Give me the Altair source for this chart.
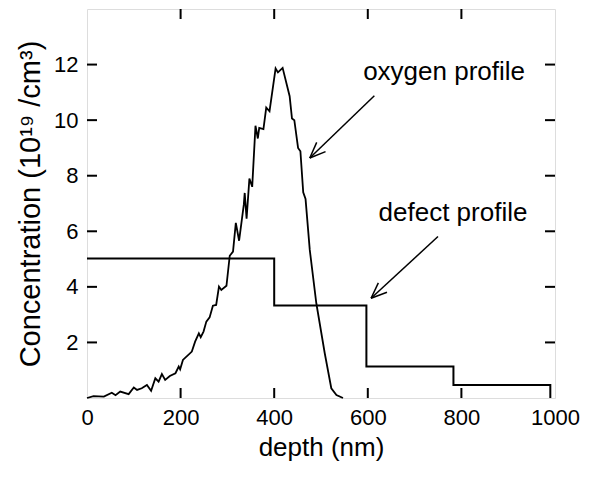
import altair as alt
import pandas as pd
import numpy as np

# ---- data ----
oxy_depth = [0, 14, 36, 53, 61, 71, 89, 100, 107, 117, 128, 137, 146, 153, 160, 167, 177, 189, 196, 199,
             205, 224, 231, 239, 243, 249, 255, 262, 269, 276, 282, 287, 298, 305, 312, 318, 325, 335,
             337, 341, 347, 353, 360, 365, 368, 377, 383, 390, 403, 408, 418, 433, 438, 443, 451, 456,
             462, 467, 476, 490, 508, 522, 533, 547]
oxy_conc = [0, 0.07, 0.05, 0.19, 0.10, 0.23, 0.14, 0.38, 0.29, 0.35, 0.47, 0.26, 0.71, 0.59, 0.86, 0.65,
            0.79, 0.89, 1.13, 1.03, 1.37, 1.67, 2.03, 2.33, 2.19, 2.39, 2.75, 2.90, 3.32, 3.35, 4.01,
            3.89, 4.04, 5.12, 5.27, 6.30, 5.66, 6.95, 7.38, 6.45, 7.90, 7.60, 9.80, 9.34, 9.72, 9.68,
            10.45, 10.32, 11.86, 11.72, 11.88, 10.86, 10.06, 10.00, 9.00, 8.88, 7.40, 7.16, 5.33,
            3.41, 1.61, 0.35, 0.11, 0.0]

defect_depth = [0, 400, 597, 783, 990]
defect_conc = [5.02, 3.33, 1.13, 0.47, 0.0]

x_ticks = [0, 200, 400, 600, 800, 1000]
y_ticks = [2, 4, 6, 8, 10, 12]
inner_x_ticks = [200, 400, 600, 800]

label_text = ["oxygen profile", "defect profile"]
label_x = [763, 782]
label_y = [11.73, 6.66]
arrow_start_x = [614, 750]
arrow_start_y = [10.88, 5.81]
arrow_tip_x = [476, 607]
arrow_tip_y = [8.64, 3.59]

# ---- layout ----
W, H = 468, 389
XMAX, YMAX = 1000, 14
PX_X = W / XMAX
PX_Y = H / YMAX
TICK = 10
FONT = "Liberation Sans"

xs = alt.Scale(domain=[0, XMAX], nice=False, zero=False)
ys = alt.Scale(domain=[0, YMAX], nice=False, zero=False)

oxy_df = pd.DataFrame({"depth": oxy_depth, "conc": oxy_conc})
def_df = pd.DataFrame({"depth": defect_depth, "conc": defect_conc})

oxy = alt.Chart(oxy_df).mark_line(color="black", strokeWidth=1.8).encode(
    x=alt.X("depth:Q", scale=xs,
            axis=alt.Axis(title="depth (nm)", values=x_ticks, format="d", ticks=False, domain=False,
                          grid=False, labelFontSize=22, titleFontSize=26, labelPadding=9, titlePadding=6,
                          labelFont=FONT, titleFont=FONT, labelColor="black", titleColor="black",
                          titleFontWeight="normal", labelFlush=False)),
    y=alt.Y("conc:Q", scale=ys,
            axis=alt.Axis(title="Concentration (10¹⁹ /cm³)", values=y_ticks, format="d", ticks=False,
                          domain=False, grid=False, labelFontSize=22, titleFontSize=29, labelPadding=9,
                          titlePadding=8, labelFont=FONT, titleFont=FONT, labelColor="black",
                          titleColor="black", titleFontWeight="normal")),
    order="order:Q",
).transform_window(order="row_number()")

defect = alt.Chart(def_df).mark_line(color="black", strokeWidth=2, interpolate="step-after").encode(
    x=alt.X("depth:Q", scale=xs), y=alt.Y("conc:Q", scale=ys))

# inward ticks
tx = TICK / PX_Y
ty = TICK / PX_X
bt = pd.DataFrame({"x": inner_x_ticks, "y": [0] * 4, "y2": [tx] * 4})
tt = pd.DataFrame({"x": inner_x_ticks, "y": [YMAX] * 4, "y2": [YMAX - tx] * 4})
lt = pd.DataFrame({"y": y_ticks, "x": [0] * 6, "x2": [ty] * 6})
rt = pd.DataFrame({"y": y_ticks, "x": [XMAX] * 6, "x2": [XMAX - ty] * 6})

def vticks(df):
    return alt.Chart(df).mark_rule(color="black", strokeWidth=2).encode(
        x=alt.X("x:Q", scale=xs), y=alt.Y("y:Q", scale=ys), y2="y2:Q")

def hticks(df):
    return alt.Chart(df).mark_rule(color="black", strokeWidth=2).encode(
        x=alt.X("x:Q", scale=xs), x2="x2:Q", y=alt.Y("y:Q", scale=ys))

# arrows
rows = []
for sx, sy, tx_, ty_ in zip(arrow_start_x, arrow_start_y, arrow_tip_x, arrow_tip_y):
    rows.append({"x": sx, "y": sy, "x2": tx_, "y2": ty_})
    dx = (sx - tx_) * PX_X
    dy = (sy - ty_) * PX_Y
    L = np.hypot(dx, dy)
    ux, uy = dx / L, dy / L
    for ang in (np.radians(22), -np.radians(22)):
        wx = ux * np.cos(ang) - uy * np.sin(ang)
        wy = ux * np.sin(ang) + uy * np.cos(ang)
        rows.append({"x": tx_, "y": ty_, "x2": tx_ + 17 * wx / PX_X, "y2": ty_ + 17 * wy / PX_Y})
arr_df = pd.DataFrame(rows)
arrows = alt.Chart(arr_df).mark_rule(color="black", strokeWidth=1.5).encode(
    x=alt.X("x:Q", scale=xs), y=alt.Y("y:Q", scale=ys), x2="x2:Q", y2="y2:Q")

lab_df = pd.DataFrame({"t": label_text, "x": label_x, "y": label_y})
labels = alt.Chart(lab_df).mark_text(font=FONT, fontSize=26, color="black").encode(
    x=alt.X("x:Q", scale=xs), y=alt.Y("y:Q", scale=ys), text="t:N")

chart = alt.layer(oxy, defect, vticks(bt), vticks(tt), hticks(lt), hticks(rt), arrows, labels).properties(
    width=W, height=H,
    autosize=alt.AutoSizeParams(type="none"),
    padding={"left": 79, "top": 1, "right": 27, "bottom": 75},
).configure_view(stroke="black", strokeWidth=2).configure(background="white")

chart.save("out.html", embed_options={"renderer": "svg", "actions": False})
